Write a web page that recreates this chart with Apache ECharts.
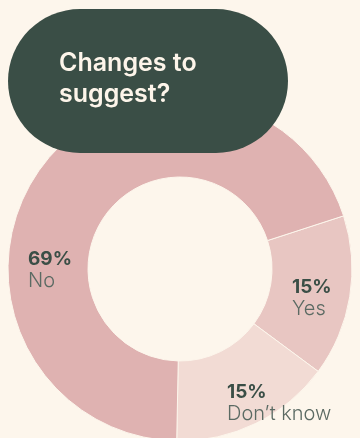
<!DOCTYPE html>
<html><head><meta charset="utf-8">
<script src="https://cdn.jsdelivr.net/npm/echarts@6/dist/echarts.min.js"></script>
<style>html,body{margin:0;padding:0;background:#fdf6ec}#c{width:360px;height:438px}</style>
</head><body><div id="c"></div>
<script>
const categories = ['Yes', "Don\u2019t know", 'No'];
const values = [15, 15, 69];
const colors = ['#e8c6c2', '#f2dbd4', '#dfb2b1'];
const titleText = 'Changes to\nsuggest?';
// label anchor positions (layout only)
const labelPos = [[292, 276], [227, 381], [28, 248]];

const chart = echarts.init(document.getElementById('c'));
chart.setOption({
  backgroundColor: '#fdf6ec',
  title: {
    text: titleText,
    left: 8, top: 9,
    padding: [39, 0, 43, 51],
    backgroundColor: '#3a4e46',
    borderRadius: 72,
    z: 10,
    textStyle: {
      color: '#fdf5ea', fontFamily: 'Inter', fontWeight: 600,
      fontSize: 25, lineHeight: 31, width: 229
    }
  },
  series: [{
    type: 'pie',
    center: [180, 269],
    radius: [92, 172],
    startAngle: 18,
    clockwise: true,
    silent: true,
    itemStyle: { borderColor: '#fdf6ec', borderWidth: 1 },
    label: {
      show: true, position: 'inside',
      formatter: p => '{p|' + p.value + '%}\n{n|' + p.name + '}',
      align: 'left',
      rich: {
        p: { fontFamily: 'Inter', fontWeight: 'bold', fontSize: 19, lineHeight: 22, color: '#3a4e46', align: 'left' },
        n: { fontFamily: 'Inter', fontWeight: 300, fontSize: 20, lineHeight: 22, color: '#5b6a63', align: 'left' }
      }
    },
    labelLine: { show: false },
    labelLayout: p => ({ x: labelPos[p.dataIndex][0], y: labelPos[p.dataIndex][1], align: 'left', verticalAlign: 'top' }),
    data: categories.map((c, i) => ({ name: c, value: values[i], itemStyle: { color: colors[i] } }))
  }]
});
</script></body></html>
